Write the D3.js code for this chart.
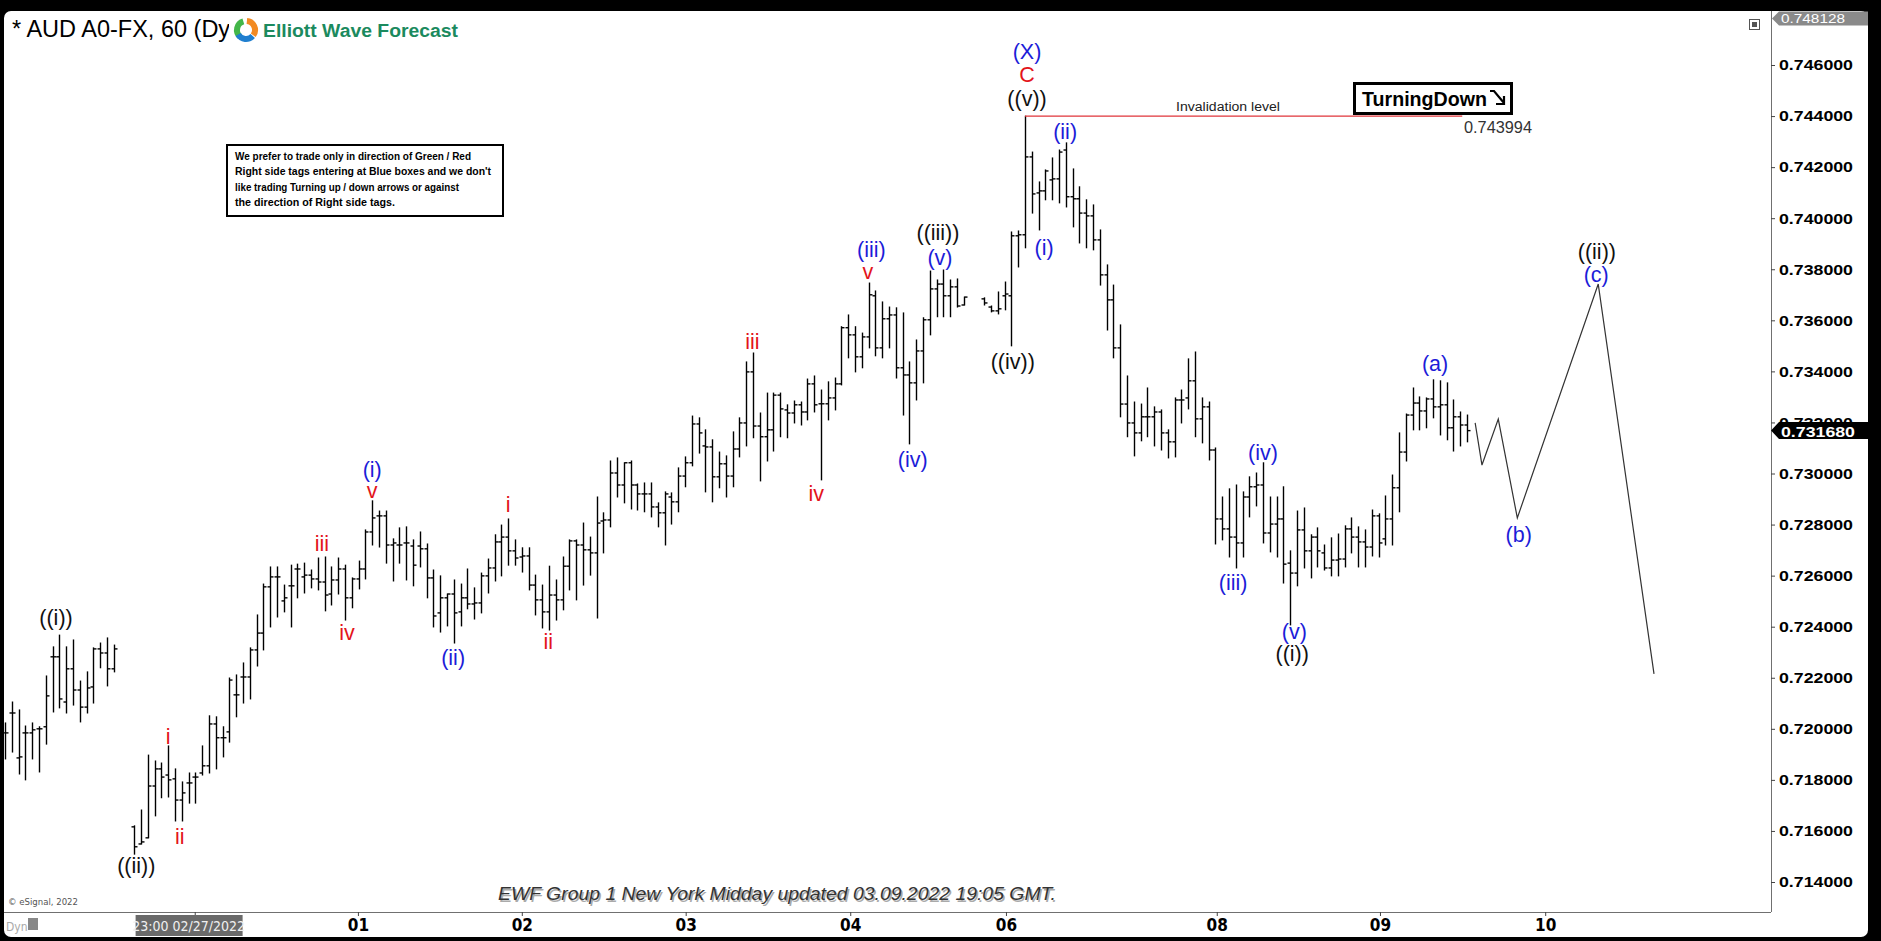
<!DOCTYPE html>
<html><head><meta charset="utf-8">
<script src="https://cdn.jsdelivr.net/npm/d3@7"></script>
<style>
html,body{margin:0;padding:0;background:#000;overflow:hidden;}
svg{display:block;}
</style></head><body>
<svg id="chart" width="1881" height="941"></svg>
<script>
// ---------------- DATA ----------------
// hourly OHLC bars (AUDUSD), null = no data
const openP = [0.71984,0.72062,0.71886,0.71984,0.71984,0.72000,0.72008,0.72282,0.72282,0.72105,
0.72235,0.72152,0.72085,0.72164,0.72313,0.72297,0.72235,null,null,0.71616,
0.71549,0.71573,0.71776,0.71843,0.71819,0.71804,0.71721,0.71788,0.71811,0.71827,
0.71855,0.72019,0.71965,0.71988,0.72133,0.72203,0.72203,0.72309,0.72375,0.72556,
0.72595,0.72501,0.72560,0.72626,0.72595,0.72602,0.72587,0.72575,0.72528,0.72583,
0.72626,0.72513,0.72587,0.72626,0.72771,0.72834,0.72834,0.72720,0.72720,0.72728,
0.72716,0.72716,0.72705,0.72591,0.72454,0.72513,0.72528,0.72458,0.72513,0.72489,
0.72493,0.72599,0.72630,0.72732,0.72751,0.72697,0.72673,0.72677,0.72563,0.72505,
0.72458,0.72524,0.72505,0.72637,0.72736,0.72720,0.72701,0.72689,0.72814,0.72818,
0.73002,0.72955,0.73042,0.72955,0.72920,0.72920,0.72869,0.72846,0.72908,0.72889,
0.72990,0.73042,0.73194,0.73108,0.73104,0.72987,0.73038,0.72990,0.73096,0.73198,
0.73398,0.73186,0.73144,0.73171,0.73307,0.73249,0.73237,0.73269,0.73241,0.73351,
0.73273,0.73273,0.73296,0.73351,0.73571,0.73543,0.73457,0.73535,0.73696,0.73492,
0.73606,0.73621,0.73414,0.73386,0.73355,0.73480,0.73602,0.73723,0.73742,0.73696,
0.73731,0.73660,null,null,0.73684,0.73652,0.73637,0.73696,0.73696,0.73931,
0.73935,0.74240,0.74099,0.74107,0.74150,0.74154,0.74267,0.74084,0.74076,0.74020,
0.74009,0.73915,0.73778,0.73680,0.73492,0.73272,0.73198,0.73159,0.73222,0.73222,
0.73241,0.73159,0.73124,0.73288,0.73296,0.73363,0.73214,0.73261,0.73092,0.72822,
0.72783,0.72751,0.72728,0.72908,0.72948,0.72955,0.72767,0.72802,0.72822,0.72649,
0.72610,0.72779,0.72697,0.72751,0.72689,0.72630,0.72661,0.72665,0.72783,0.72751,
0.72732,0.72712,0.72834,0.72744,0.72822,0.72944,0.73084,0.73229,0.73276,0.73245,
0.73292,0.73261,0.73269,0.73179,0.73222,0.73190];
const highP = [0.72023,0.72105,0.72074,0.72011,0.72023,0.72008,0.72207,0.72321,0.72367,0.72321,
0.72348,0.72187,0.72223,0.72317,0.72336,0.72356,0.72328,null,null,0.71620,
0.71682,0.71897,0.71874,0.71866,0.71933,0.71843,0.71792,0.71827,0.71827,0.71933,
0.72051,0.72047,0.72008,0.72199,0.72211,0.72258,0.72317,0.72446,0.72567,0.72634,
0.72634,0.72563,0.72641,0.72645,0.72649,0.72622,0.72669,0.72673,0.72634,0.72669,
0.72641,0.72591,0.72657,0.72779,0.72893,0.72853,0.72853,0.72744,0.72787,0.72791,
0.72740,0.72771,0.72724,0.72622,0.72599,0.72528,0.72583,0.72567,0.72626,0.72552,
0.72610,0.72665,0.72760,0.72798,0.72822,0.72740,0.72709,0.72709,0.72602,0.72563,
0.72637,0.72583,0.72673,0.72740,0.72740,0.72806,0.72751,0.72908,0.72846,0.73049,
0.73061,0.73042,0.73049,0.72959,0.72963,0.72963,0.72885,0.72928,0.72924,0.73022,
0.73065,0.73225,0.73218,0.73171,0.73132,0.73084,0.73069,0.73163,0.73218,0.73437,
0.73472,0.73237,0.73315,0.73315,0.73315,0.73269,0.73284,0.73280,0.73370,0.73382,
0.73327,0.73359,0.73374,0.73575,0.73621,0.73575,0.73550,0.73746,0.73715,0.73672,
0.73652,0.73649,0.73629,0.73437,0.73523,0.73610,0.73793,0.73758,0.73797,0.73758,
0.73762,0.73691,null,null,0.73688,0.73656,0.73711,0.73750,0.73946,0.73950,
0.743994,0.74259,0.74142,0.74189,0.74236,0.74267,0.74295,0.74193,0.74123,0.74072,
0.74052,0.73954,0.73817,0.73738,0.73582,0.73382,0.73280,0.73272,0.73335,0.73261,
0.73249,0.73171,0.73296,0.73327,0.73449,0.73476,0.73296,0.73280,0.73100,0.72908,
0.72940,0.72955,0.72928,0.72987,0.73002,0.73042,0.72908,0.72908,0.72948,0.72697,
0.72853,0.72865,0.72760,0.72787,0.72720,0.72748,0.72763,0.72795,0.72826,0.72791,
0.72779,0.72857,0.72842,0.72912,0.72994,0.73159,0.73233,0.73335,0.73300,0.73296,
0.73367,0.73363,0.73355,0.73288,0.73241,0.73229];
const lowP = [0.71882,0.71909,0.71823,0.71800,0.71882,0.71831,0.71940,0.72066,0.72082,0.72062,
0.72093,0.72027,0.72062,0.72101,0.72239,0.72168,0.72223,null,null,0.71509,
0.71549,0.71573,0.71659,0.71730,0.71733,0.71639,0.71639,0.71709,0.71709,0.71819,
0.71827,0.71843,0.71890,0.71948,0.72047,0.72101,0.72117,0.72246,0.72309,0.72399,
0.72438,0.72458,0.72399,0.72513,0.72532,0.72552,0.72544,0.72462,0.72485,0.72528,
0.72426,0.72474,0.72548,0.72587,0.72720,0.72712,0.72649,0.72579,0.72649,0.72583,
0.72560,0.72634,0.72513,0.72399,0.72379,0.72403,0.72336,0.72403,0.72470,0.72430,
0.72454,0.72532,0.72579,0.72599,0.72641,0.72641,0.72614,0.72544,0.72446,0.72395,
0.72387,0.72426,0.72466,0.72544,0.72505,0.72563,0.72602,0.72434,0.72689,0.72791,
0.72908,0.72885,0.72861,0.72857,0.72850,0.72830,0.72791,0.72720,0.72802,0.72850,
0.72948,0.73030,0.73080,0.72928,0.72889,0.72944,0.72908,0.72948,0.73065,0.73108,
0.73140,0.72971,0.73049,0.73088,0.73144,0.73140,0.73198,0.73190,0.73210,0.73241,
0.72975,0.73210,0.73249,0.73347,0.73453,0.73398,0.73414,0.73492,0.73461,0.73453,
0.73492,0.73374,0.73229,0.73116,0.73288,0.73355,0.73543,0.73614,0.73614,0.73614,
0.73652,0.73660,null,null,0.73660,0.73633,0.73625,0.73641,0.73500,0.73809,
0.73884,0.74020,0.73954,0.74072,0.74072,0.74060,0.74044,0.73966,0.73903,0.73884,
0.73876,0.73738,0.73562,0.73453,0.73222,0.73144,0.73069,0.73128,0.73144,0.73108,
0.73092,0.73061,0.73065,0.73198,0.73253,0.73144,0.73120,0.73053,0.72724,0.72740,
0.72673,0.72630,0.72673,0.72830,0.72873,0.72728,0.72693,0.72673,0.72571,0.72407,
0.72560,0.72630,0.72591,0.72634,0.72622,0.72599,0.72599,0.72634,0.72689,0.72634,
0.72634,0.72677,0.72673,0.72720,0.72720,0.72850,0.73049,0.73171,0.73171,0.73179,
0.73218,0.73151,0.73132,0.73088,0.73108,0.73124];
const closeP = [0.71984,0.72062,0.71890,0.71984,0.71996,0.72000,0.72129,0.72282,0.72117,0.72235,
0.72152,0.72085,0.72160,0.72313,0.72297,0.72235,0.72313,null,null,0.71538,
0.71557,0.71776,0.71843,0.71811,0.71800,0.71721,0.71749,0.71788,0.71811,0.71855,
0.72019,0.71965,0.71965,0.72191,0.72133,0.72203,0.72309,0.72375,0.72556,0.72595,
0.72595,0.72513,0.72560,0.72626,0.72602,0.72587,0.72575,0.72524,0.72583,0.72626,
0.72513,0.72587,0.72626,0.72771,0.72826,0.72834,0.72720,0.72728,0.72720,0.72728,
0.72641,0.72705,0.72591,0.72442,0.72513,0.72528,0.72454,0.72513,0.72489,0.72493,
0.72599,0.72630,0.72732,0.72751,0.72697,0.72669,0.72677,0.72563,0.72505,0.72458,
0.72524,0.72505,0.72637,0.72736,0.72720,0.72701,0.72689,0.72806,0.72818,0.73002,
0.72955,0.73042,0.72955,0.72920,0.72920,0.72869,0.72846,0.72920,0.72889,0.72990,
0.73042,0.73194,0.73159,0.73104,0.72987,0.73038,0.72990,0.73096,0.73198,0.73398,
0.73186,0.73144,0.73171,0.73307,0.73253,0.73237,0.73269,0.73241,0.73351,0.73269,
0.73273,0.73296,0.73351,0.73571,0.73543,0.73457,0.73535,0.73700,0.73492,0.73606,
0.73621,0.73414,0.73386,0.73355,0.73480,0.73602,0.73723,0.73742,0.73696,0.73731,
0.73656,0.73691,null,null,0.73668,0.73637,0.73645,0.73703,0.73931,0.73935,
0.74240,0.74095,0.74107,0.74185,0.74154,0.74259,0.74084,0.74076,0.74020,0.74009,
0.73915,0.73778,0.73680,0.73492,0.73272,0.73198,0.73159,0.73222,0.73222,0.73241,
0.73159,0.73124,0.73288,0.73288,0.73363,0.73214,0.73261,0.73092,0.72822,0.72783,
0.72751,0.72728,0.72908,0.72948,0.72955,0.72767,0.72802,0.72822,0.72645,0.72610,
0.72779,0.72697,0.72751,0.72697,0.72630,0.72661,0.72665,0.72783,0.72751,0.72732,
0.72712,0.72834,0.72728,0.72822,0.72944,0.73084,0.73229,0.73276,0.73245,0.73292,
0.73261,0.73269,0.73179,0.73222,0.73190,0.73168];

const yTickValues = [0.714,0.716,0.718,0.720,0.722,0.724,0.726,0.728,0.730,0.732,0.734,0.736,0.738,0.740,0.742,0.744,0.746];
const dayLabels = ["01","02","03","04","06","08","09","10"];
const dayIdx = [51.9,76.0,100.1,124.3,147.2,178.2,202.2,226.5];
const cursorIdx = 27.0, cursorLabel = "23:00 02/27/2022";
const hiddenTickIdx = 27.9;

const lastPrice = 0.731680;
const topPrice = 0.748128;
const invalidationPrice = 0.743994;
const invalidationFrom = 150, invalidationTo = 214.3;

const projIdx = [216.2,217.2,219.6,222.4,234.3,242.5];
const projPrice = [0.73198,0.73033,0.73213,0.72826,0.73742,0.72215];

const labelText = ["((i))","((ii))","i","ii","iii","iv","v","(i)","(ii)","i","ii","iii","iv","v","(iii)","(iv)","(v)","((iii))","((iv))","(i)","(ii)","((v))","C","(X)","(iii)","(iv)","(v)","((i))","(a)","(b)","((ii))","(c)"];
const labelIdx = [7.5,19.3,24.0,25.7,46.6,50.3,54.0,54.0,65.9,74.0,79.9,109.9,119.3,126.9,127.4,133.5,137.5,137.2,148.2,152.8,155.9,150.3,150.3,150.3,180.6,185.0,189.6,189.3,210.3,222.6,234.1,234.0];
const labelPrice = [0.72434,0.71463,0.71968,0.71577,0.72724,0.72375,0.72932,0.73014,0.72278,0.72877,0.72340,0.73516,0.72920,0.73789,0.73876,0.73053,0.73845,0.73942,0.73437,0.73884,0.74338,0.74467,0.74561,0.74651,0.72571,0.73080,0.72379,0.72293,0.73429,0.72759,0.73868,0.73778];
const labelDegree = ["minute","minute","sub","sub","sub","sub","sub","minuette","minuette","sub","sub","sub","sub","sub","minuette","minuette","minuette","minute","minute","minuette","minuette","minute","minor","intermediate","minuette","minuette","minuette","minute","minuette","minuette","minute","minuette"];

const noteLines = ["We prefer to trade only in direction of Green / Red","Right side tags entering at Blue boxes and we don't","like trading Turning up / down arrows or against","the direction of Right side tags."];

// ---------------- DRAW ----------------
const svg = d3.select("#chart");
const plotL = 4, plotR = 1771, plotT = 11, plotB = 912;
const x = d3.scaleLinear().domain([0, 260]).range([5, 5 + 260 * 6.8]);
const y = d3.scaleLinear().domain([0.714, 0.746]).range([882, 65]);
const FONT = "'Liberation Sans', Arial, sans-serif";
const NARROW = "'Liberation Sans Narrow','Arial Narrow','DejaVu Sans Condensed',sans-serif";
const degreeColor = {minute:"#111111", sub:"#e3141b", minuette:"#1c1cd8", minor:"#e3141b", intermediate:"#1c1cd8"};

svg.append("rect").attr("x",4).attr("y",11).attr("width",1864).attr("height",926).attr("rx",7).attr("fill","#fff");

svg.append("defs").append("clipPath").attr("id","clip")
  .append("rect").attr("x",plotL).attr("y",plotT).attr("width",plotR-plotL).attr("height",plotB-plotT);

// Title
const tg = svg.append("g");
tg.append("text").attr("x",12).attr("y",37).attr("font-family",FONT).attr("font-size",23.5).attr("fill","#000").text("* AUD A0-FX, 60 (Dyn)");
tg.append("rect").attr("x",229).attr("y",14).attr("width",32).attr("height",34).attr("fill","#fff");
const arc = d3.arc().innerRadius(6).outerRadius(12);
const logo = tg.append("g").attr("transform","translate(246,30)");
[["#43b649",-2.4,-0.3],["#f28a22",0.1,2.2],["#1f7fcf",2.3,4.2]].forEach(([c,a0,a1])=>{
  logo.append("path").attr("d",arc({startAngle:a0,endAngle:a1})).attr("fill",c);
});
tg.append("text").attr("x",263).attr("y",37).attr("font-family",FONT).attr("font-weight","bold").attr("font-size",18)
  .attr("fill","#1b8a5e").attr("textLength",195).attr("lengthAdjust","spacingAndGlyphs").text("Elliott Wave Forecast");

// small icon top-right
svg.append("rect").attr("x",1749.5).attr("y",19.5).attr("width",10).attr("height",10).attr("fill","#fff").attr("stroke","#555");
svg.append("rect").attr("x",1752).attr("y",22).attr("width",5).attr("height",5).attr("fill","#555");

// Note box
const nb = svg.append("g");
nb.append("rect").attr("x",227).attr("y",145).attr("width",276).attr("height",71).attr("fill","#fff").attr("stroke","#000").attr("stroke-width",2);
const noteW = [236,256,224,160];
noteLines.forEach((t,i)=>{
  nb.append("text").attr("x",235).attr("y",160+i*15.3).attr("font-family",FONT).attr("font-weight","bold").attr("font-size",10.5)
    .attr("fill","#000").attr("textLength",noteW[i]).attr("lengthAdjust","spacingAndGlyphs").text(t);
});

// Borders
svg.append("line").attr("x1",plotR+0.5).attr("x2",plotR+0.5).attr("y1",plotT).attr("y2",plotB).attr("stroke","#707070");
svg.append("line").attr("x1",plotL).attr("x2",plotR).attr("y1",plotB+0.5).attr("y2",plotB+0.5).attr("stroke","#707070");

// Bars
const bars = d3.range(openP.length).filter(i => openP[i] != null)
  .map(i => ({i, o:openP[i], h:highP[i], l:lowP[i], c:closeP[i]}));
const gBars = svg.append("g").attr("clip-path","url(#clip)").attr("stroke","#000").attr("stroke-width",1.4);
const bx = d => Math.round(x(d.i)) + 0.5;
const bg = gBars.selectAll("g").data(bars).join("g");
bg.append("line").attr("x1",bx).attr("x2",bx).attr("y1",d=>y(d.h)-0.5).attr("y2",d=>y(d.l)+0.5);
bg.append("line").attr("x1",d=>bx(d)-3).attr("x2",bx).attr("y1",d=>y(d.o)).attr("y2",d=>y(d.o));
bg.append("line").attr("x1",bx).attr("x2",d=>bx(d)+3).attr("y1",d=>y(d.c)).attr("y2",d=>y(d.c));

// Invalidation line
svg.append("line").attr("x1",x(invalidationFrom)).attr("x2",x(invalidationTo))
  .attr("y1",y(invalidationPrice)).attr("y2",y(invalidationPrice)).attr("stroke","#e0353a").attr("stroke-width",1.3);
svg.append("text").attr("x",1176).attr("y",y(invalidationPrice)-5).attr("font-family",FONT).attr("font-size",12.5).attr("fill","#222")
  .attr("textLength",104).attr("lengthAdjust","spacingAndGlyphs").text("Invalidation level");
svg.append("text").attr("x",1464).attr("y",y(invalidationPrice)+17).attr("font-family",FONT).attr("font-size",16).attr("fill","#333")
  .attr("textLength",68).attr("lengthAdjust","spacingAndGlyphs").text(d3.format(".6f")(invalidationPrice));

// TurningDown box
const td = svg.append("g");
td.append("rect").attr("x",1354.5).attr("y",83.5).attr("width",157).attr("height",30).attr("fill","#fff").attr("stroke","#000").attr("stroke-width",3);
td.append("text").attr("x",1362).attr("y",106).attr("font-family",FONT).attr("font-weight","bold").attr("font-size",20).attr("fill","#000")
  .attr("textLength",125).attr("lengthAdjust","spacingAndGlyphs").text("TurningDown");
td.append("path").attr("d","M1490,91 L1494,91 L1504,103 M1504,96 L1504,104 L1496,104").attr("fill","none").attr("stroke","#000").attr("stroke-width",2.2);

// Projection path
const proj = projIdx.map((d,i)=>[x(d), y(projPrice[i])]);
svg.append("path").attr("d", d3.line()(proj)).attr("fill","none").attr("stroke","#333").attr("stroke-width",1.2);

// Wave labels
svg.append("g").selectAll("text").data(labelText).join("text")
  .attr("x",(d,i)=>x(labelIdx[i])).attr("y",(d,i)=>y(labelPrice[i]))
  .attr("text-anchor","middle").attr("dominant-baseline","central")
  .attr("font-family",FONT).attr("font-size",21.5)
  .attr("fill",(d,i)=>degreeColor[labelDegree[i]]).text(d=>d);

// Y axis
const yAxis = svg.append("g").attr("transform",`translate(${plotR},0)`)
  .call(d3.axisRight(y).tickValues(yTickValues).tickFormat(d3.format(".6f")).tickSize(4).tickPadding(4));
yAxis.select(".domain").remove();
yAxis.selectAll(".tick line").attr("stroke","#444");
yAxis.selectAll(".tick text").attr("font-family",FONT).attr("font-weight","bold").attr("font-size",15).attr("fill","#000")
  .attr("textLength",74).attr("lengthAdjust","spacingAndGlyphs");

// top price label
const tpY = Math.max(y(topPrice), 18.5);
svg.append("path").attr("d",`M1772,${tpY} L1779,${tpY-7} L1868,${tpY-7} L1868,${tpY+7} L1779,${tpY+7} Z`).attr("fill","#8a8a8a");
svg.append("text").attr("x",1781).attr("y",tpY).attr("dominant-baseline","central").attr("font-family",FONT).attr("font-size",13)
  .attr("fill","#fff").attr("textLength",64).attr("lengthAdjust","spacingAndGlyphs").text(d3.format(".6f")(topPrice));
svg.append("rect").attr("x",1760).attr("y",0).attr("width",121).attr("height",11).attr("fill","#000");

// last price label
const lpY = y(lastPrice);
svg.append("path").attr("d",`M1771,${lpY} L1779,${lpY-8.5} L1868,${lpY-8.5} L1868,${lpY+8.5} L1779,${lpY+8.5} Z`).attr("fill","#000");
svg.append("text").attr("x",1781).attr("y",lpY+1).attr("dominant-baseline","central").attr("font-family",FONT).attr("font-weight","bold")
  .attr("font-size",15).attr("fill","#fff").attr("textLength",74).attr("lengthAdjust","spacingAndGlyphs").text(d3.format(".6f")(lastPrice));

// X axis
const xAxis = svg.append("g").attr("transform",`translate(0,${plotB})`)
  .call(d3.axisBottom(x).tickValues([hiddenTickIdx, ...dayIdx]).tickFormat(d => { const k = dayIdx.indexOf(d); return k >= 0 ? dayLabels[k] : ""; }).tickSize(4).tickPadding(3));
xAxis.select(".domain").remove();
xAxis.selectAll(".tick line").attr("stroke","#444");
xAxis.selectAll(".tick text").attr("font-family",NARROW).attr("font-weight","bold").attr("font-size",17).attr("fill","#000");

// cursor time box
svg.append("rect").attr("x",x(cursorIdx)-53).attr("y",915).attr("width",107).attr("height",21).attr("fill","#6a6a6a");
svg.append("text").attr("x",x(cursorIdx)).attr("y",926).attr("text-anchor","middle").attr("dominant-baseline","central")
  .attr("font-family",NARROW).attr("font-size",14).attr("fill","#f0f0f0").text(cursorLabel);

// Dyn + icon
svg.append("text").attr("x",6).attr("y",931).attr("font-family",NARROW).attr("font-size",12).attr("fill","#aaa").text("Dyn");
svg.append("rect").attr("x",28).attr("y",918).attr("width",10).attr("height",12).attr("fill","#888");

// footer texts
svg.append("text").attr("x",8).attr("y",905).attr("font-family",NARROW).attr("font-size",9.5).attr("fill","#555").text("© eSignal, 2022");
const footer = "EWF Group 1 New York Midday updated 03.09.2022 19:05 GMT.";
svg.append("text").attr("x",499.5).attr("y",901.5).attr("font-family",FONT).attr("font-style","italic").attr("font-size",19)
  .attr("fill","#aaa").attr("textLength",558).attr("lengthAdjust","spacingAndGlyphs").text(footer);
svg.append("text").attr("x",498).attr("y",900).attr("font-family",FONT).attr("font-style","italic").attr("font-size",19)
  .attr("fill","#333").attr("textLength",558).attr("lengthAdjust","spacingAndGlyphs").text(footer);
</script>
</body></html>
